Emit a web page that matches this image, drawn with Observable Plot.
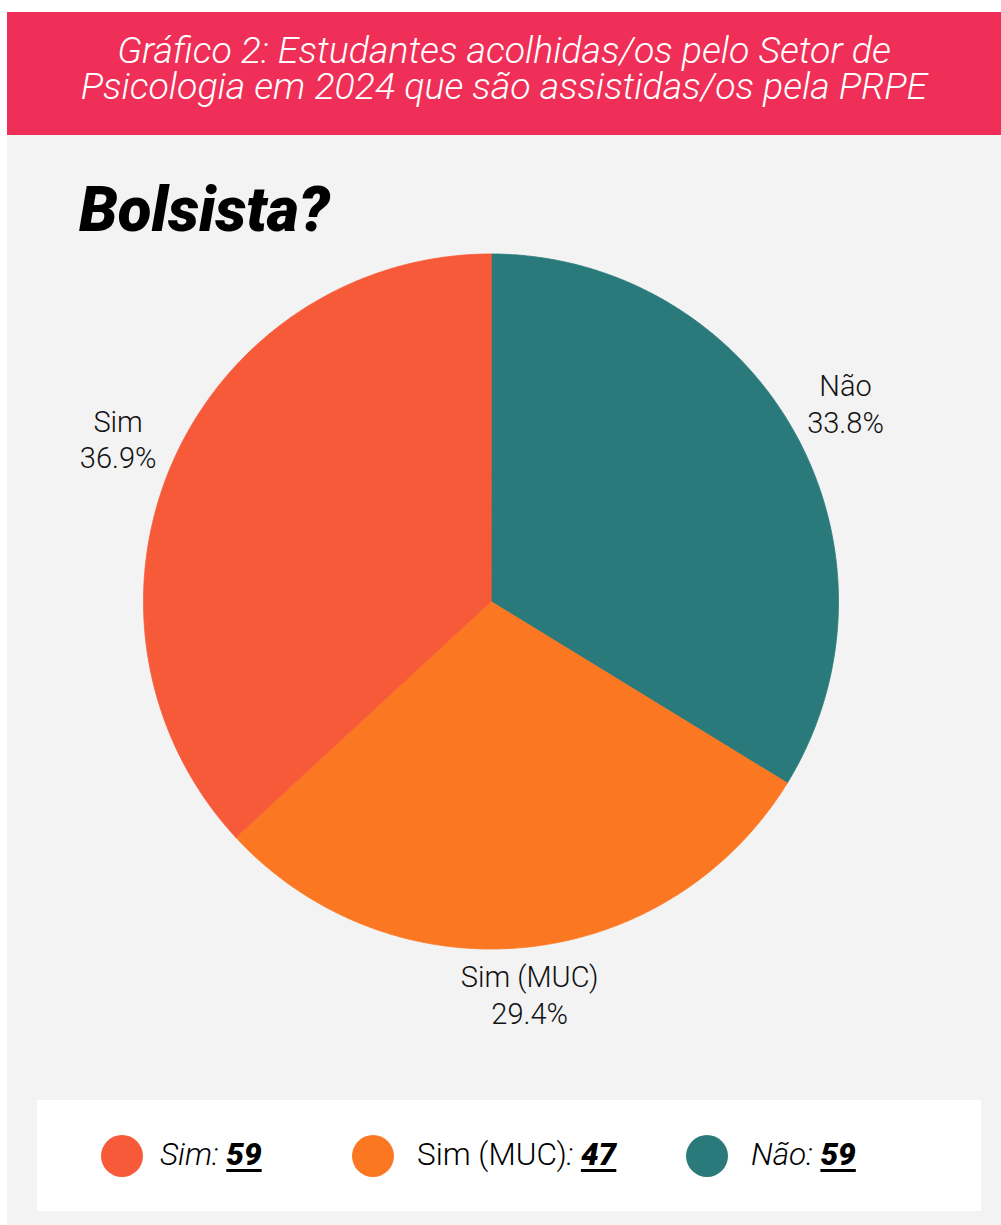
<!DOCTYPE html>
<html>
<head>
<meta charset="utf-8">
<script src="https://cdn.jsdelivr.net/npm/d3@7"></script>
<script src="https://cdn.jsdelivr.net/npm/@observablehq/plot@0.6"></script>
<style>
  body { margin: 0; width: 1001px; height: 1225px; background: #ffffff; position: relative; overflow: hidden; font-family: Roboto, "Noto Sans", sans-serif; }
  #panel { position: absolute; left: 7px; top: 12px; width: 994px; height: 1213px; background: #f3f3f3; }
  #header { position: absolute; left: 7px; top: 12px; width: 994px; height: 123px; background: #ef2f57; }
  .hline { position: absolute; left: 0; width: 994px; height: 36px; overflow: visible; text-align: center; color: #fff; font-style: italic; font-weight: 300; font-size: 37.5px; line-height: 36px; white-space: nowrap; }
  #bigtitle { position: absolute; left: 79px; top: 179px; font-size: 62px; line-height: 62px; font-weight: 900; font-style: italic; color: #000; }
  #chart { position: absolute; left: 7px; top: 200px; }
  #legendbox { position: absolute; left: 37px; top: 1100px; width: 944px; height: 111px; background: #fff; }
  .dot { position: absolute; width: 42px; height: 42px; border-radius: 50%; }
  .ltext { position: absolute; font-size: 31.5px; line-height: 31px; color: #000; white-space: nowrap; font-weight: 300; }
  .ltext b { font-weight: 900; font-style: italic; text-decoration: underline; text-decoration-thickness: 3px; text-underline-offset: 4px; }
</style>
</head>
<body>
<div id="panel"></div>
<div id="header">
  <div class="hline" style="top:20px">Gráfico 2: Estudantes acolhidas/os pelo Setor de</div>
  <div class="hline" style="top:56px">Psicologia em 2024 que são assistidas/os pela PRPE</div>
</div>
<div id="bigtitle">Bolsista?</div>
<div id="chart"></div>
<div id="legendbox"></div>
<script>
// ---- data ----
const categories = ["Sim", "Sim (MUC)", "Não"];
const sliceValues = [59, 47, 54];          // counts behind the slices (36.9% / 29.4% / 33.8%)
const legendCounts = [59, 47, 59];         // counts printed in the legend
const drawOrder = ["Não", "Sim (MUC)", "Sim"]; // clockwise from 12 o'clock

// ---- style / layout ----
const colors = ["#f65a38", "#fb7722", "#2b7a7b"];
const legendX = [122, 373, 707];   // dot centres (page px)
const legendTextX = [160, 417, 751];
const legendItalic = [true, false, true];

const total = d3.sum(sliceValues);
const rows = drawOrder.map(name => ({ name, value: sliceValues[categories.indexOf(name)] }));
const arcs = d3.pie().sort(null).value(d => d.value)(rows);

const pts = [];
for (const a of arcs) {
  pts.push({ name: a.data.name, x: 0, y: 0 });
  const n = Math.max(2, Math.ceil((a.endAngle - a.startAngle) / (Math.PI / 360)));
  for (let i = 0; i <= n; i++) {
    const t = a.startAngle + (a.endAngle - a.startAngle) * i / n;
    pts.push({ name: a.data.name, x: Math.sin(t), y: Math.cos(t) });
  }
}
const labels = arcs.map(a => {
  const m = (a.startAngle + a.endAngle) / 2;
  const k = 1.13 + 0.045 * Math.abs(Math.sin(m));
  const pct = (Math.round(a.data.value * 1000 / total) / 10).toFixed(1);
  return { x: k * Math.sin(m), y: k * Math.cos(m), text: `${a.data.name}\n${pct}%` };
});

const W = 994, H = 860, R = 347.5, cx = 483.5, cy = 401;
const chart = Plot.plot({
  width: W, height: H, margin: 0,
  x: { domain: [-cx / R, (W - cx) / R], axis: null },
  y: { domain: [-(H - cy) / R, cy / R], axis: null },
  color: { domain: categories, range: colors },
  style: { background: "transparent", fontFamily: "Roboto, sans-serif" },
  marks: [
    Plot.line(pts, { x: "x", y: "y", z: "name", fill: "name", stroke: "name", strokeWidth: 0.8, curve: "linear-closed" }),
    Plot.text(labels, { x: "x", y: "y", text: "text", fontSize: 29, lineHeight: 1.25, fill: "#111", fontWeight: 300 })
  ]
});
document.getElementById("chart").appendChild(chart);

// ---- legend ----
categories.forEach((c, i) => {
  const dot = document.createElement("div");
  dot.className = "dot";
  dot.style.left = (legendX[i] - 21) + "px";
  dot.style.top = (1156 - 21) + "px";
  dot.style.background = colors[i];
  document.body.appendChild(dot);
  const t = document.createElement("div");
  t.className = "ltext";
  t.style.left = legendTextX[i] + "px";
  t.style.top = "1139px";
  const lab = document.createElement("span");
  lab.textContent = c;
  if (legendItalic[i]) lab.style.fontStyle = "italic";
  const colon = document.createElement("span");
  colon.textContent = ": ";
  colon.style.fontStyle = "italic";
  const b = document.createElement("b");
  b.textContent = legendCounts[i];
  t.appendChild(lab); t.appendChild(colon); t.appendChild(b);
  document.body.appendChild(t);
});
</script>
</body>
</html>
